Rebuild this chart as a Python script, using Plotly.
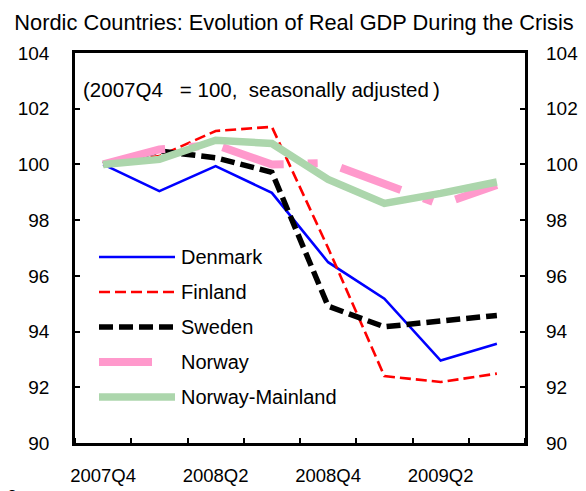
import plotly.graph_objects as go

quarters = ["2007Q4", "2008Q1", "2008Q2", "2008Q3", "2008Q4", "2009Q1", "2009Q2", "2009Q3"]
tick_labels = ["2007Q4", "2008Q2", "2008Q4", "2009Q2"]
tick_idx = [0, 2, 4, 6]

denmark = [100.0, 99.04, 99.94, 98.98, 96.49, 95.18, 92.96, 93.56]
finland = [100.0, 100.3, 101.2, 101.35, 97.0, 92.4, 92.19, 92.49]
sweden = [100.0, 100.48, 100.24, 99.72, 94.91, 94.17, 94.38, 94.58]
norway = [100.0, 100.54, 100.7, 100.0, 100.05, 99.32, 98.56, 99.26]
norway_mainland = [100.0, 100.18, 100.87, 100.75, 99.46, 98.6, 98.96, 99.37]

names = ["Denmark", "Finland", "Sweden", "Norway", "Norway-Mainland"]
series = [denmark, finland, sweden, norway, norway_mainland]
colors = ["#0000ff", "#ff0000", "#000000", "#ff99cc", "#acd6ac"]
widths = [2.6, 2.6, 5.5, 8, 7.5]
dashes = ["solid", "11px,5px", "14px,6px", "64px,24px,10px,24px", "solid"]

FONT = "Liberation Sans, Arial, sans-serif"
x = list(range(len(quarters)))

fig = go.Figure()
for n, s, c, w, d in zip(names, series, colors, widths, dashes):
    fig.add_trace(go.Scatter(x=x, y=s, mode="lines", name=n,
                             line=dict(color=c, width=w, dash=d),
                             showlegend=False))
# invisible trace to anchor right axis
fig.add_trace(go.Scatter(x=[x[0]], y=[denmark[0]], yaxis="y2", mode="lines",
                         showlegend=False, hoverinfo="skip", line=dict(width=0)))

# page body has an 8px margin: screen = figure + 8
OFF = 8
L, T, H, W = 75, 53, 390, 450   # plot box in screen pixels
legend_y = [257, 292, 327, 362, 397]
legend_x1 = [175, 175, 175, 152, 175]
for n, c, w, d, ly, lx1 in zip(names, colors, widths, dashes, legend_y, legend_x1):
    yp = (T + H - ly) / H
    fig.add_shape(type="line", xref="paper", yref="paper",
                  x0=(99 - L) / W, x1=(lx1 - L) / W, y0=yp, y1=yp,
                  line=dict(color=c, width=w, dash=d if n != "Norway" else "solid"))
    fig.add_annotation(text=n, xref="paper", yref="paper",
                       x=(179 - L) / W, y=yp, xanchor="left", yanchor="middle",
                       showarrow=False, font=dict(family=FONT, size=20, color="black"))

fig.add_annotation(text="(2007Q4&nbsp;&nbsp; = 100,&nbsp; seasonally adjusted&#8201;)",
                   xref="paper", yref="paper",
                   x=(81 - L) / W, y=(T + H - 89) / H, xanchor="left", yanchor="middle",
                   showarrow=False, font=dict(family=FONT, size=20.5, color="black"))

fig.add_annotation(text="2", xref="paper", yref="paper",
                   x=(12 - L) / W, y=(T + H - 497) / H, xanchor="center", yanchor="middle",
                   showarrow=False, font=dict(family=FONT, size=18, color="black"))

fig.update_layout(
    width=586, height=491,
    margin=dict(l=L - OFF, r=586 - (L + W - OFF), t=T - OFF, b=491 - (T + H - OFF)),
    paper_bgcolor="white", plot_bgcolor="white",
    font=dict(family=FONT, size=19, color="black"),
    title=dict(text="Nordic Countries: Evolution of Real GDP During the Crisis",
               x=(294 - OFF) / 586, xanchor="center", y=1 - (22 - OFF) / 491, yanchor="middle",
               font=dict(family=FONT, size=21.8, color="black")),
    xaxis=dict(range=[-0.5, 7.5], tickmode="array", tickvals=tick_idx, ticktext=tick_labels,
               ticks="", showgrid=False, zeroline=False, automargin=False,
               showline=True, linecolor="black", linewidth=2.5, mirror=True,
               ticklabelstandoff=14, tickfont=dict(size=18.5),
               minor=dict(tick0=0.5, dtick=1, ticks="inside", ticklen=5,
                          tickwidth=2, tickcolor="black", showgrid=False)),
    yaxis=dict(range=[90, 104], dtick=2, ticks="inside", ticklen=5, tickwidth=2,
               tickcolor="black", showgrid=False, zeroline=False, automargin=False,
               showline=True, linecolor="black", linewidth=2.5, mirror="ticks",
               ticklabelstandoff=19, tickfont=dict(size=19)),
    yaxis2=dict(range=[90, 104], dtick=2, overlaying="y", side="right",
                ticks="", showgrid=False, zeroline=False, showline=False, automargin=False,
                ticklabelstandoff=20, tickfont=dict(size=19)),
)

fig.write_html("out.html")
